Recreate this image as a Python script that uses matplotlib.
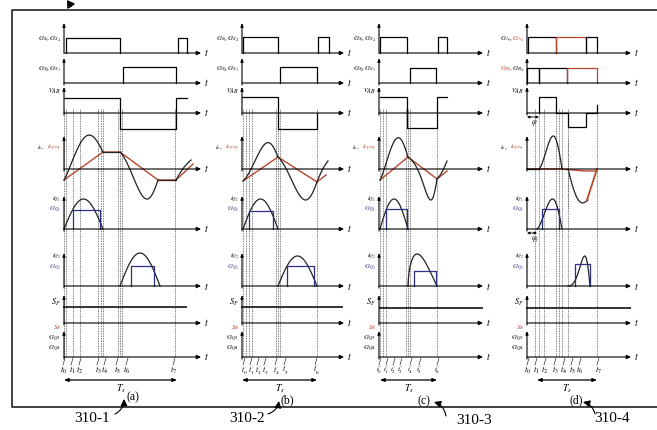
import numpy as np
import matplotlib
matplotlib.use("Agg")
import matplotlib.pyplot as plt

# ----------------------------------------------------------------- data ----
# time axis in pixel-like units, amplitudes relative to each row baseline
PANEL_NAMES = ["(a)", "(b)", "(c)", "(d)"]
PANEL_REFS = ["310-1", "310-2", "310-3", "310-4"]
PANEL_ORIGIN = [64, 242, 379, 527]
PANEL_AXIS_END = [201, 344, 483, 631]
ROW_BASE = [53, 83, 113, 169, 229, 286, 323, 357]
ROW_TIP = [23, 58, 87, 136, 196, 253, 295, 331]

RED = "#b8472c"
BLUE = "#2e2f86"

# gate G_S1,G_S4 : (start, end, height, colour)
A_G14 = [(66, 120, 15, "k"), (178, 187, 15, "k")]
B_G14 = [(243, 278, 16, "k"), (318, 329, 16, "k")]
C_G14 = [(380, 407, 16, "k"), (438, 447, 16, "k")]
D_G14 = [(528, 556, 16, "k"), (556, 586, 16, RED), (586, 597, 16, "k")]
# gate G_S2,G_S3
A_G23 = [(123, 176, 16, "k")]
B_G23 = [(280, 317, 16, "k")]
C_G23 = [(410, 436, 15, "k")]
D_G23 = [(527, 539, 15, "k"), (539, 567, 15, "k"), (567, 597, 15, RED)]
# v_AB step polyline
A_VAB_T = [64, 120, 120, 176, 176, 187]
A_VAB_V = [15, 15, -16, -16, 15, 15]
B_VAB_T = [242, 278, 278, 317, 317]
B_VAB_V = [16, 16, -16, -16, 0]
C_VAB_T = [380, 407, 407, 437, 437, 447]
C_VAB_V = [16, 16, -15, -15, 16, 16]
D_VAB_T = [539, 539, 556, 556, 568, 568, 586, 586, 597, 597]
D_VAB_V = [0, 16, 16, 0, 0, -14, -14, 0, 0, 8]
# i_s segments: (t_start, t_end, v_start, v_end, bulge, skew)
A_IS = [(64, 103, -11, 17, 28, 1.2), (103, 120, 17, 17, 0, 1),
        (120, 158, 17, -11, -28, 1.6), (158, 176, -11, -11, 0, 1),
        (176, 191, -11, 9, 2, 1)]
B_IS = [(243, 278, -12, 12, 22, 1.6), (278, 317, 12, -13, -26, 1.6),
        (317, 328, -13, 8, 2, 1)]
C_IS = [(380, 408, -11, 12, 28, 1.3), (408, 437, 12, -10, -26, 2.5),
        (437, 447, -10, 8, -2, 1)]
D_IS = [(527, 539, 0, 0, 0, 1), (539, 562, 0, 0, 33, 1.45),
        (568, 588, 0, -31, -15, 1.0)]
# i_Lpeq polyline
A_IL_T = [64, 103, 120, 158, 176, 193]
A_IL_V = [-11, 17, 17, -11, -11, 5]
B_IL_T = [243, 278, 317, 326]
B_IL_V = [-12, 12, -13, -6]
C_IL_T = [380, 408, 437, 447]
C_IL_V = [-11, 12, -10, -2]
D_IL_T = [527, 560, 586, 597]
D_IL_V = [0, 0, -2, -2]
D_IL_TAIL_T = [587, 597]
D_IL_TAIL_V = [-31, 0]
# i_Q1 arc (start, end, height, skew) and G_Q1 rectangle (start, end, height)
A_IQ1, A_GQ1 = (64, 103, 30, 1.0), (73, 100, 19)
B_IQ1, B_GQ1 = (243, 278, 30, 1.0), (249, 273, 18)
C_IQ1, C_GQ1 = (380, 408, 30, 1.0), (386, 407, 20)
D_IQ1, D_GQ1 = (537, 562, 30, 1.45), (542, 559, 20)
# i_Q2 arc and G_Q2 rectangle
A_IQ2, A_GQ2 = (120, 160, 33, 1.0), (131, 154, 20)
B_IQ2, B_GQ2 = (278, 317, 30, 1.0), (287, 314, 20)
C_IQ2, C_GQ2 = (408, 437, 32, 0.6), (414, 436, 15)
D_IQ2, D_GQ2 = (568, 590, 30, 2.5), (575, 590, 22)
# S_F level
A_SF, B_SF, C_SF, D_SF = (64, 186, 16), (242, 342, 16), (380, 482, 15), (527, 630, 15)
# switching instants (dotted lines) and their labels
A_DASH = [64, 66, 73, 80, 98, 101, 103, 118, 120, 122, 175]
B_DASH = [243, 246, 249, 252, 276, 278, 280, 317]
C_DASH = [380, 383, 386, 406, 408, 410, 437]
D_DASH = [535, 539, 544, 556, 559, 562, 568, 597]
A_TLAB = [64, 72, 80, 98, 105, 117, 127, 174]
B_TLAB = [244, 251, 258, 265, 276, 285, 316]
C_TLAB = [380, 387, 394, 401, 411, 420, 438]
D_TLAB = [528, 536, 545, 555, 564, 572, 580, 598]
TS_RANGE = [(64, 177), (242, 317), (380, 437), (537, 597)]

# ------------------------------------------------------------- drawing ----
plt.rcParams["font.family"] = ["DejaVu Serif"]
plt.rcParams["mathtext.fontset"] = "stix"

fig = plt.figure(figsize=(6.57, 4.30), dpi=100)
ax = fig.add_axes([0, 0, 1, 1])
ax.set_xlim(0, 657)
ax.set_ylim(430, 0)
ax.axis("off")

LW = 0.9


def arrow(x0, y0, x1, y1, style="-|>", lw=0.8, hl=0.25, hw=0.12, color="k"):
    ax.annotate("", xy=(x1, y1), xytext=(x0, y0),
                arrowprops=dict(arrowstyle=f"{style},head_length={hl},head_width={hw}",
                                lw=lw, color=color, shrinkA=0, shrinkB=0))


def arc(ts, te, vs, ve, b, p, n=80):
    t = np.linspace(ts, te, n)
    s = (t - ts) / (te - ts)
    return t, vs + (ve - vs) * s + b * np.sin(np.pi * s ** p)


def pulses(lst, base):
    for ts, te, h, c in lst:
        ax.plot([ts, ts, te, te], [base, base - h, base - h, base], color=c, lw=LW)


def tlabel(x, y, s, color="k", size=5.0):
    ax.text(x, y, s, ha="right", va="center", fontsize=size, color=color, style="italic")


panels = [
    dict(g14=A_G14, g23=A_G23, vt=A_VAB_T, vv=A_VAB_V, iss=A_IS, ilt=A_IL_T, ilv=A_IL_V,
         iq1=A_IQ1, gq1=A_GQ1, iq2=A_IQ2, gq2=A_GQ2, sf=A_SF, dash=A_DASH, tl=A_TLAB,
         tn=["$t_%d$" % i for i in range(8)], tfs=6.2),
    dict(g14=B_G14, g23=B_G23, vt=B_VAB_T, vv=B_VAB_V, iss=B_IS, ilt=B_IL_T, ilv=B_IL_V,
         iq1=B_IQ1, gq1=B_GQ1, iq2=B_IQ2, gq2=B_GQ2, sf=B_SF, dash=B_DASH, tl=B_TLAB,
         tn=["$t_%d'$" % i for i in range(7)], tfs=5.6),
    dict(g14=C_G14, g23=C_G23, vt=C_VAB_T, vv=C_VAB_V, iss=C_IS, ilt=C_IL_T, ilv=C_IL_V,
         iq1=C_IQ1, gq1=C_GQ1, iq2=C_IQ2, gq2=C_GQ2, sf=C_SF, dash=C_DASH, tl=C_TLAB,
         tn=["$t_%d''$" % i for i in range(7)], tfs=5.0),
    dict(g14=D_G14, g23=D_G23, vt=D_VAB_T, vv=D_VAB_V, iss=D_IS, ilt=D_IL_T, ilv=D_IL_V,
         iq1=D_IQ1, gq1=D_GQ1, iq2=D_IQ2, gq2=D_GQ2, sf=D_SF, dash=D_DASH, tl=D_TLAB,
         tn=["$t_%d$" % i for i in range(8)], tfs=6.0),
]

for k, P in enumerate(panels):
    x0 = PANEL_ORIGIN[k]
    xe = PANEL_AXIS_END[k]
    # axes for each row
    for r in range(8):
        b = ROW_BASE[r]
        arrow(x0, b, xe, b)
        ax.text(xe + 3, b, "$t$", fontsize=7, va="center", ha="left")
        arrow(x0, b + (2 if r else 0), x0, ROW_TIP[r], hl=0.2, hw=0.08)
    # dotted switching lines
    for t in P["dash"]:
        ax.plot([t, t], [ROW_BASE[2] - 4, ROW_BASE[7]], color="#555555", lw=0.6,
                ls=(0, (1, 1)))
    # row labels
    lx = x0 - 3
    if k < 3:
        tlabel(lx, 39, "$G_{S_1}\\!,G_{S_4}$")
        tlabel(lx, 69, "$G_{S_2}\\!,G_{S_3}$")
    else:
        ax.text(lx - 11, 39, "$G_{A_1}\\!,$", ha="right", va="center", fontsize=5.0)
        ax.text(lx, 39, "$G_{A_4}$", ha="right", va="center", fontsize=5.0, color=RED)
        ax.text(lx - 11, 69, "$G_{B_1}\\!,$", ha="right", va="center", fontsize=5.0, color=RED)
        ax.text(lx, 69, "$G_{B_4}$", ha="right", va="center", fontsize=5.0)
    tlabel(lx, 91, "$v_{AB}$", size=6)
    ax.text(lx - 16, 148, "$i_s,$", ha="right", va="center", fontsize=5.0)
    ax.text(lx, 148, "$i_{Lpeq}$", ha="right", va="center", fontsize=5.0, color=RED)
    tlabel(lx, 199, "$i_{Q_1}$")
    tlabel(lx, 209, "$G_{Q_1}$", color=BLUE)
    tlabel(lx, 256, "$i_{Q_2}$")
    tlabel(lx, 267, "$G_{Q_2}$", color=BLUE)
    tlabel(lx, 302, "$S_F$", size=6)
    tlabel(lx, 328, "$S_R$", color=RED)
    tlabel(lx, 338, "$G_{Q3}$")
    tlabel(lx, 348, "$G_{Q4}$")

    # gates
    pulses(P["g14"], ROW_BASE[0])
    pulses(P["g23"], ROW_BASE[1])
    # v_AB
    ax.plot(P["vt"], ROW_BASE[2] - np.array(P["vv"]), color="k", lw=LW)
    # i_Lpeq and i_s
    ax.plot(P["ilt"], ROW_BASE[3] - np.array(P["ilv"]), color=RED, lw=1.0)
    for seg in P["iss"]:
        t, v = arc(*seg)
        ax.plot(t, ROW_BASE[3] - v, color="#222222", lw=LW)
    if k == 3:
        ax.plot(D_IL_TAIL_T, ROW_BASE[3] - np.array(D_IL_TAIL_V), color=RED, lw=1.3)
        arrow(x0, ROW_BASE[2] + 4, 539, ROW_BASE[2] + 4, style="<|-|>", lw=0.6, hl=0.15, hw=0.07)
        ax.text(531, ROW_BASE[2] + 10, "$\\varphi$", fontsize=5.5, va="center")
        arrow(x0, ROW_BASE[4] + 4, 537, ROW_BASE[4] + 4, style="<|-|>", lw=0.6, hl=0.15, hw=0.07)
        ax.text(531, ROW_BASE[4] + 10, "$\\varphi_f$", fontsize=5.5, va="center")
        ax.plot([568, 568], [ROW_BASE[3] - 30, ROW_BASE[3] + 40], color="#555555",
                lw=0.6, ls=(0, (1, 1)))
    # i_Q1 / G_Q1
    ts, te, h, p = P["iq1"]
    t, v = arc(ts, te, 0, 0, h, p)
    ax.plot(t, ROW_BASE[4] - v, color="#222222", lw=LW)
    gs, ge, gh = P["gq1"]
    ax.plot([gs, gs, ge, ge], [ROW_BASE[4], ROW_BASE[4] - gh, ROW_BASE[4] - gh, ROW_BASE[4]],
            color=BLUE, lw=LW)
    # i_Q2 / G_Q2
    ts, te, h, p = P["iq2"]
    t, v = arc(ts, te, 0, 0, h, p)
    ax.plot(t, ROW_BASE[5] - v, color="#222222", lw=LW)
    gs, ge, gh = P["gq2"]
    ax.plot([gs, gs, ge, ge], [ROW_BASE[5], ROW_BASE[5] - gh, ROW_BASE[5] - gh, ROW_BASE[5]],
            color=BLUE, lw=LW)
    # S_F
    ss, se, sh = P["sf"]
    ax.plot([ss, se], [ROW_BASE[6] - sh, ROW_BASE[6] - sh], color="#333333", lw=1.4)
    # time labels with short leaders
    for t, lab in zip(P["tl"], P["tn"]):
        ax.text(t, 370, lab, fontsize=P["tfs"], ha="center", va="center")
        ax.plot([t - 1, t + 1], [365, ROW_BASE[7] + 1], color="#333333", lw=0.5)
    # Ts arrow
    a0, a1 = TS_RANGE[k]
    arrow(a0, 380, a1, 380, style="<|-|>", lw=0.9, hl=0.25, hw=0.1)
    ax.text((a0 + a1) / 2, 389, "$T_s$", fontsize=7, ha="center", va="center")

# panel captions and reference numerals
CAP_POS = [(133, 397), (287, 400), (424, 401), (576, 400)]
REF_POS = [(92, 418), (247, 418), (474, 420), (612, 418)]
REF_ARROW = [((115, 414), (124, 399)), ((268, 414), (279, 401)),
             ((446, 416), (434, 402)), ((595, 414), (583, 402))]
for cap, ref, (cx, cy), (rx, ry), (pa, pb) in zip(PANEL_NAMES, PANEL_REFS, CAP_POS,
                                                 REF_POS, REF_ARROW):
    ax.text(cx, cy, cap, fontsize=8.5, ha="center", va="center", family="Liberation Serif")
    ax.text(rx, ry, ref, fontsize=11, ha="center", va="center", family="Liberation Serif")
    ax.annotate("", xy=pb, xytext=pa,
                arrowprops=dict(arrowstyle="-|>,head_length=0.4,head_width=0.2", lw=0.8,
                                color="k", connectionstyle="arc3,rad=0.3",
                                shrinkA=0, shrinkB=0))

# outer frame
ax.plot([657, 12, 12, 657], [10, 10, 407, 407], color="#333333", lw=1.3)
ax.annotate("", xy=(67, 0), xytext=(71, 6),
            arrowprops=dict(arrowstyle="-|>,head_length=0.4,head_width=0.25", lw=1.2,
                            color="k", shrinkA=0, shrinkB=0))

fig.savefig("out.png", dpi=100)
